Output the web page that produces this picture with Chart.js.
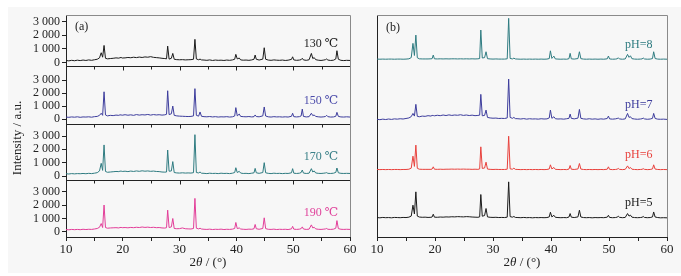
<!DOCTYPE html>
<html lang="zh">
<head>
  <meta charset="UTF-8">
  <title>XRD patterns</title>
  <script src="https://cdn.jsdelivr.net/npm/chart.js"></script>
  <style>
    body { margin: 0; background: #fff; }
    #wrap { position: relative; width: 681px; height: 276px; }
    #bg { position: absolute; left: 8px; top: 7px; width: 673px; height: 266px; background: #f7f7f7; }
    canvas { position: absolute; top: 0; }
    #chartA { left: 0; }
    #chartB { left: 360px; }
  </style>
</head>
<body>
<div id="wrap">
  <div id="bg"></div>
  <canvas id="chartA" width="360" height="276"></canvas>
  <canvas id="chartB" width="321" height="276"></canvas>
</div>
<script>
  // 2θ grid shared by all patterns
  const twoTheta = [
    10, 10.5, 11, 11.5, 12, 12.5, 13, 13.5, 14, 14.5, 15, 15.5, 15.9,
    16.2, 16.45, 16.7, 16.95, 17.3, 17.8, 18.3, 18.8, 19.3, 19.5, 19.7, 19.9,
    20.4, 20.9, 21.4, 21.9, 22.4, 22.9, 23.4, 23.9, 24.4, 24.9, 25.4, 25.9, 26.4, 26.9, 27.4, 27.7,
    27.9, 28.15, 28.55, 28.8, 29.05, 29.5, 30, 30.5, 31, 31.5, 32, 32.45, 32.7, 32.95, 33.35, 33.6, 33.85,
    34.3, 34.8, 35.3, 35.8, 36.3, 36.8, 37.3, 37.8, 38.3, 38.8, 39.3, 39.7,
    39.9, 40.15, 40.5, 40.75, 41.2, 41.7, 42.2, 42.7, 43.1, 43.3, 43.5, 44, 44.65, 44.9, 45.15,
    45.6, 46.1, 46.6, 47.1, 47.6, 48.1, 48.6, 49.1, 49.7,
    49.9, 50.1, 50.6, 51.1, 51.4, 51.6, 51.8, 52.3, 52.8, 53.2, 53.45, 53.7, 53.95, 54.4, 54.9, 55.4, 55.7, 55.9, 56.1, 56.6, 57.1, 57.5, 57.7, 57.95, 58.4, 58.9, 59.4, 60
  ];

  // (a) temperature series
  const t130 = [
    140, 110, 150, 120, 160, 130, 170, 140, 180, 150, 190, 230, 330,
    710, 380, 1250, 300, 260, 280, 300, 330, 310, 340, 360, 320,
    330, 360, 340, 380, 350, 390, 360, 400, 380, 420, 370, 350, 330, 300, 280, 260,
    1200, 240, 300, 660, 230, 200, 190, 200, 180, 190, 200, 230, 1700, 250, 190, 240, 180,
    170, 150, 180, 140, 170, 150, 160, 140, 170, 150, 180, 230,
    590, 250, 320, 180, 160, 170, 150, 180, 230, 540, 230, 170, 240, 1080, 230,
    170, 150, 180, 160, 150, 170, 140, 160, 220,
    410, 180, 150, 170, 200, 300, 180, 150, 190, 660, 280, 350, 200, 160, 140, 170, 200, 250, 170, 140, 160, 250, 860, 230, 150, 130, 150, 140
  ];
  const t150 = [
    170, 150, 180, 160, 190, 150, 180, 170, 190, 160, 200, 220, 300,
    460, 300, 2100, 330, 260, 300, 280, 320, 300, 340, 330, 310,
    350, 310, 340, 300, 360, 320, 350, 330, 370, 320, 360, 330, 350, 320, 340, 380,
    2180, 360, 420, 1010, 300, 260, 240, 230, 220, 210, 220, 260, 2340, 300, 240, 560, 230,
    200, 190, 210, 180, 200, 170, 190, 180, 200, 170, 190, 250,
    890, 260, 400, 220, 200, 190, 210, 180, 200, 330, 210, 190, 260, 940, 250,
    190, 170, 200, 180, 190, 170, 190, 170, 230,
    460, 200, 180, 200, 260, 780, 220, 180, 200, 460, 280, 330, 220, 190, 170, 190, 220, 300, 200, 170, 180, 230, 530, 220, 180, 170, 190, 170
  ];
  const t170 = [
    170, 150, 180, 160, 180, 170, 190, 170, 200, 180, 210, 250, 380,
    950, 420, 2330, 340, 280, 300, 320, 340, 330, 360, 370, 340,
    360, 330, 370, 340, 380, 350, 390, 360, 380, 350, 370, 340, 330, 300, 290, 300,
    1950, 360, 380, 1080, 260, 230, 220, 240, 220, 230, 220, 250, 3100, 260, 230, 300, 210,
    200, 180, 210, 190, 200, 180, 210, 190, 200, 180, 210, 260,
    620, 260, 350, 220, 190, 200, 180, 210, 240, 570, 240, 200, 260, 1000, 240,
    200, 180, 210, 190, 200, 180, 200, 190, 240,
    550, 210, 190, 210, 260, 450, 220, 190, 210, 550, 300, 380, 230, 200, 190, 210, 230, 250, 200, 190, 210, 270, 600, 240, 200, 190, 200, 190
  ];
  const t190 = [
    180, 160, 190, 170, 190, 170, 200, 180, 200, 190, 220, 260, 350,
    630, 330, 2020, 330, 280, 300, 310, 320, 300, 330, 340, 320,
    330, 310, 340, 320, 350, 330, 370, 340, 360, 330, 350, 320, 330, 300, 290, 320,
    1640, 330, 380, 1010, 260, 240, 250, 300, 240, 230, 220, 260, 2520, 280, 230, 280, 220,
    200, 190, 210, 180, 200, 190, 210, 180, 200, 190, 210, 260,
    710, 250, 300, 220, 200, 190, 210, 200, 240, 560, 240, 200, 260, 1060, 250,
    200, 190, 210, 180, 200, 190, 200, 180, 230,
    420, 210, 190, 210, 250, 380, 220, 190, 210, 530, 300, 350, 230, 200, 190, 210, 230, 260, 200, 190, 210, 280, 850, 250, 200, 190, 200, 190
  ];

  // (b) pH series (raw counts, stacked with offsets)
  const ph5 = [
    150, 130, 160, 140, 150, 130, 160, 150, 140, 160, 150, 180, 260,
    1080, 420, 2080, 260, 190, 170, 180, 160, 170, 190, 400, 180,
    170, 190, 180, 200, 190, 210, 200, 220, 210, 200, 220, 210, 190, 180, 170, 200,
    1880, 250, 300, 830, 200, 170, 160, 170, 150, 160, 150, 180, 2830, 220, 180, 230, 160,
    150, 140, 160, 140, 150, 130, 150, 140, 150, 140, 150, 200,
    550, 200, 320, 170, 150, 140, 150, 140, 190, 450, 180, 150, 200, 700, 190,
    150, 140, 150, 130, 150, 140, 150, 140, 180,
    320, 160, 140, 150, 180, 250, 170, 140, 160, 450, 260, 330, 180, 150, 140, 150, 170, 230, 160, 140, 150, 200, 570, 190, 150, 130, 140, 130
  ];
  const ph6 = [
    150, 140, 150, 140, 150, 140, 150, 150, 140, 150, 150, 170, 250,
    1150, 380, 1980, 240, 170, 160, 160, 160, 160, 180, 350, 170,
    160, 170, 160, 170, 170, 180, 170, 180, 170, 180, 170, 170, 160, 170, 160, 190,
    1850, 230, 260, 700, 180, 160, 150, 160, 150, 150, 150, 170, 2650, 200, 170, 250, 160,
    150, 140, 150, 140, 150, 140, 150, 140, 150, 140, 150, 190,
    500, 190, 300, 160, 150, 140, 150, 140, 180, 450, 170, 150, 190, 600, 180,
    150, 140, 150, 140, 150, 140, 150, 140, 170,
    350, 160, 140, 150, 170, 230, 160, 140, 160, 420, 220, 300, 170, 150, 140, 150, 160, 210, 160, 140, 150, 190, 500, 180, 150, 140, 150, 140
  ];
  const ph7 = [
    160, 130, 170, 140, 180, 150, 190, 170, 200, 180, 220, 260, 360,
    600, 400, 1280, 380, 350, 400, 380, 430, 400, 450, 440, 420,
    460, 430, 480, 440, 490, 450, 480, 460, 500, 450, 480, 440, 470, 430, 450, 470,
    2030, 420, 450, 850, 300, 260, 240, 250, 220, 230, 220, 260, 3180, 300, 230, 300, 210,
    200, 180, 210, 170, 200, 180, 190, 170, 200, 180, 190, 260,
    850, 230, 350, 200, 180, 190, 170, 200, 230, 550, 230, 190, 250, 900, 230,
    190, 170, 200, 170, 190, 160, 190, 170, 220,
    400, 190, 170, 190, 220, 250, 190, 160, 190, 600, 300, 350, 210, 180, 160, 180, 200, 250, 190, 160, 180, 230, 600, 220, 170, 160, 170, 150
  ];
  const ph8 = [
    150, 140, 150, 140, 150, 150, 140, 150, 150, 140, 150, 170, 260,
    1330, 420, 1950, 250, 170, 160, 160, 160, 170, 180, 450, 170,
    160, 170, 160, 170, 160, 170, 170, 160, 170, 160, 170, 160, 170, 160, 170, 190,
    2330, 230, 260, 700, 180, 160, 150, 160, 150, 150, 150, 170, 3210, 200, 160, 220, 160,
    150, 140, 150, 140, 150, 140, 150, 140, 150, 140, 150, 190,
    770, 200, 370, 160, 150, 140, 150, 140, 180, 580, 170, 150, 190, 700, 180,
    150, 140, 150, 140, 150, 140, 150, 140, 170,
    380, 160, 140, 150, 170, 250, 160, 140, 160, 500, 280, 400, 180, 150, 140, 150, 160, 230, 160, 140, 150, 190, 700, 190, 150, 140, 150, 140
  ];

  const tempLabels = ['130 ℃', '150 ℃', '170 ℃', '190 ℃'];
  const phLabels = ['pH=5', 'pH=6', 'pH=7', 'pH=8'];
  const phOffsets = [1310, 4920, 8680, 13210];
  const yTicks = [0, 1000, 2000, 3000];
  const xTicks = [10, 15, 20, 25, 30, 35, 40, 45, 50, 55, 60];

  const tempColors = ['#1a1a1a', '#3c3c9c', '#2e7b80', '#e23d98'];
  const tempTextColors = ['#1a1a1a', '#4d4dab', '#3a8088', '#e0449c'];
  const phColors = ['#1a1a1a', '#e8413c', '#3c3c9c', '#2e7b80'];

  const SERIF = '"Liberation Serif", "DejaVu Serif", serif';
  Chart.defaults.font.family = SERIF;
  Chart.defaults.font.size = 12;
  Chart.defaults.color = '#222';

  const toPoints = (arr, off) => twoTheta.map((t, i) => ({ x: t, y: arr[i] + (off || 0) }));
  const spaced = v => String(v).replace(/\B(?=(\d{3})+(?!\d))/g, ' ');

  function xAxis() {
    return {
      type: 'linear', min: 10, max: 60,
      afterBuildTicks: s => { s.ticks = xTicks.map(v => ({ value: v })); },
      afterFit: s => { s.height = 39; },
      ticks: { autoSkip: false, maxRotation: 0, padding: 1, font: { size: 13 },
               callback: v => (v % 10 === 0 ? v : '') },
      grid: { drawOnChartArea: false, tickLength: 4, color: '#222' },
      border: { color: '#222' }
    };
  }

  // "2θ / (°)" with italic theta
  function drawXTitle(ctx, cx, cy) {
    const parts = [['2', '13px ' + SERIF], ['θ', 'italic 13px ' + SERIF], [' / (°)', '13px ' + SERIF]];
    let w = 0;
    parts.forEach(p => { ctx.font = p[1]; w += ctx.measureText(p[0]).width; });
    let x = cx - w / 2;
    ctx.textAlign = 'left';
    ctx.textBaseline = 'middle';
    ctx.fillStyle = '#222';
    parts.forEach(p => { ctx.font = p[1]; ctx.fillText(p[0], x, cy); x += ctx.measureText(p[0]).width; });
  }

  function frame(ctx, a) {
    ctx.strokeStyle = '#8a8a8a';
    ctx.lineWidth = 1;
    ctx.beginPath();
    ctx.moveTo(a.left, a.top + 0.5);
    ctx.lineTo(a.right + 0.5, a.top + 0.5);
    ctx.lineTo(a.right + 0.5, a.bottom);
    ctx.stroke();
  }

  const yIds = ['y130', 'y150', 'y170', 'y190'];
  const yRanges = { y130: [-270, 3500], y150: [-360, 4070], y170: [-300, 3900], y190: [-380, 3900] };
  const yWeights = { y130: 51, y150: 58, y170: 56, y190: 57 };

  // stacked left axes are laid out last-defined on top, so add them bottom first
  const scalesA = { x: xAxis() };
  yIds.slice().reverse().forEach(id => {
    scalesA[id] = {
      type: 'linear', position: 'left', stack: 'temp', stackWeight: yWeights[id],
      min: yRanges[id][0], max: yRanges[id][1],
      afterBuildTicks: s => { s.ticks = yTicks.map(v => ({ value: v })); },
      afterFit: s => { s.width = 60; },
      ticks: { autoSkip: false, padding: 2, callback: v => spaced(v) },
      grid: { drawOnChartArea: false, tickLength: 4, color: '#222' },
      border: { color: '#222' }
    };
  });

  const panelA = {
    id: 'panelA',
    afterDatasetsDraw(chart) {
      const { ctx, chartArea: a, scales } = chart;
      const xs = scales.x;
      ctx.save();
      frame(ctx, a);
      // separators between the stacked sub-plots, with down ticks
      const ys = yIds.map(id => scales[id]).sort((p, q) => p.top - q.top);
      ctx.strokeStyle = '#222';
      ys.slice(0, 3).forEach(s => {
        const y = Math.round(s.bottom) + 0.5;
        ctx.beginPath();
        ctx.moveTo(a.left, y);
        ctx.lineTo(a.right, y);
        xTicks.slice(1, -1).forEach(v => {
          const px = Math.round(xs.getPixelForValue(v)) + 0.5;
          ctx.moveTo(px, y);
          ctx.lineTo(px, y + (v % 10 === 0 ? 4 : 3));
        });
        ctx.stroke();
      });
      ctx.font = '12px ' + SERIF;
      ctx.textBaseline = 'middle';
      ctx.textAlign = 'right';
      yIds.forEach((id, i) => {
        ctx.fillStyle = tempTextColors[i];
        ctx.fillText(tempLabels[i], xs.getPixelForValue(57.9), scales[id].getPixelForValue(1400));
      });
      ctx.fillStyle = '#222';
      ctx.textAlign = 'left';
      ctx.fillText('(a)', a.left + 9, a.top + 12);
      drawXTitle(ctx, (a.left + a.right) / 2, 263);
      ctx.translate(18, 138);
      ctx.rotate(-Math.PI / 2);
      ctx.textAlign = 'center';
      ctx.font = '13px ' + SERIF;
      ctx.fillText('Intensity / a.u.', 0, 0);
      ctx.restore();
    }
  };

  const panelB = {
    id: 'panelB',
    afterDatasetsDraw(chart) {
      const { ctx, chartArea: a, scales } = chart;
      ctx.save();
      frame(ctx, a);
      ctx.font = '12px ' + SERIF;
      ctx.textBaseline = 'middle';
      ctx.textAlign = 'right';
      phLabels.forEach((t, i) => {
        ctx.fillStyle = phColors[i];
        ctx.fillText(t, scales.x.getPixelForValue(57.5), scales.y.getPixelForValue(phOffsets[i] + 1250));
      });
      ctx.fillStyle = '#222';
      ctx.textAlign = 'left';
      ctx.fillText('(b)', a.left + 9, a.top + 13);
      drawXTitle(ctx, (a.left + a.right) / 2, 263);
      ctx.restore();
    }
  };

  const common = {
    responsive: false,
    animation: false,
    devicePixelRatio: 1,
    elements: { point: { radius: 0 }, line: { borderWidth: 1, tension: 0 } },
    plugins: { legend: { display: false }, tooltip: { enabled: false } }
  };

  new Chart(document.getElementById('chartA'), {
    type: 'line',
    data: {
      datasets: [t130, t150, t170, t190].map((arr, i) => ({
        data: toPoints(arr), borderColor: tempColors[i], yAxisID: yIds[i], xAxisID: 'x'
      }))
    },
    options: Object.assign({}, common, {
      layout: { padding: { left: 6, right: 10, top: 15, bottom: 0 } },
      scales: scalesA
    }),
    plugins: [panelA]
  });

  new Chart(document.getElementById('chartB'), {
    type: 'line',
    data: {
      datasets: [ph5, ph6, ph7, ph8].map((arr, i) => ({
        data: toPoints(arr, phOffsets[i]), borderColor: phColors[i]
      }))
    },
    options: Object.assign({}, common, {
      layout: { padding: { left: 17, right: 14, top: 15, bottom: 0 } },
      scales: {
        x: xAxis(),
        y: {
          type: 'linear', min: 0, max: 16670,
          afterFit: s => { s.width = 0; },
          ticks: { display: false },
          grid: { display: false },
          border: { display: true, color: '#222' }
        }
      }
    }),
    plugins: [panelB]
  });
</script>
</body>
</html>
